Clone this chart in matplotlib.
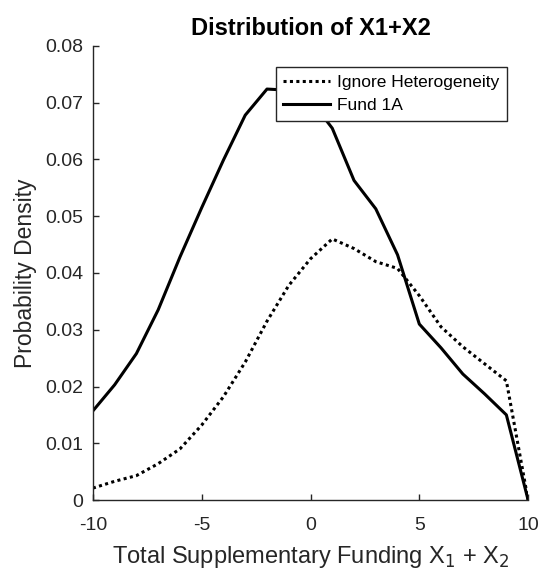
import numpy as np
import matplotlib
matplotlib.use("Agg")
import matplotlib.pyplot as plt

plt.rcParams['font.family'] = ['Liberation Sans', 'DejaVu Sans']
plt.rcParams['axes.unicode_minus'] = False

# ---- data ----
x_grid = [-10, -9, -8, -7, -6, -5, -4, -3, -2, -1, 0,
          1, 2, 3, 4, 5, 6, 7, 8, 9, 10]

ignore_het = [0.0021, 0.0033, 0.0043, 0.0064, 0.0090, 0.0132, 0.0182,
              0.0243, 0.0315, 0.0378, 0.0425, 0.0460, 0.0443, 0.0420,
              0.0408, 0.0360, 0.0305, 0.0270, 0.0240, 0.0210, 0.0]

fund_1a = [0.0157, 0.0203, 0.0258, 0.0335, 0.0428, 0.0515, 0.0599,
           0.0678, 0.0724, 0.0722, 0.0705, 0.0655, 0.0563, 0.0513,
           0.0432, 0.0310, 0.0268, 0.0222, 0.0187, 0.0150, 0.0]

x_ticks = [-10, -5, 0, 5, 10]
y_ticks = [0, 0.01, 0.02, 0.03, 0.04, 0.05, 0.06, 0.07, 0.08]
y_tick_labels = ['0', '0.01', '0.02', '0.03', '0.04',
                 '0.05', '0.06', '0.07', '0.08']

text_col = '#262626'

fig = plt.figure(figsize=(5.40, 5.77), dpi=100)
ax = fig.add_axes([0.172, 0.1334, 0.806, 0.787])

ax.plot(x_grid, ignore_het, color='black', linestyle=(0, (1, 1.1)),
        linewidth=2.2, label='Ignore Heterogeneity')
ax.plot(x_grid, fund_1a, color='black', linestyle='-',
        linewidth=2.2, label='Fund 1A')

ax.set_xlim(-10, 10)
ax.set_ylim(0, 0.08)
ax.set_xticks(x_ticks)
ax.set_yticks(y_ticks)
ax.set_yticklabels(y_tick_labels)

for side in ['top', 'right']:
    ax.spines[side].set_visible(False)
for side in ['left', 'bottom']:
    ax.spines[side].set_color(text_col)
    ax.spines[side].set_linewidth(1.0)

ax.tick_params(direction='in', length=4, width=1.0, colors=text_col,
               labelsize=14)
ax.tick_params(axis='x', pad=12)
ax.tick_params(axis='y', pad=7)

ax.set_title('Distribution of X1+X2', fontsize=17, fontweight='bold',
             color='black', pad=8)
ax.set_xlabel('Total Supplementary Funding X$_1$ + X$_2$', fontsize=17,
              color=text_col, labelpad=7.5)
ax.set_ylabel('Probability Density', fontsize=16.5, color=text_col,
              labelpad=6)

leg = ax.legend(loc='upper right', bbox_to_anchor=(0.952, 0.954),
                fontsize=12.5, frameon=True, fancybox=False,
                handlelength=2.7, handletextpad=0.4, borderpad=0.45,
                labelspacing=0.45, borderaxespad=0)
leg.get_frame().set_edgecolor(text_col)
leg.get_frame().set_linewidth(1.0)
leg.get_frame().set_alpha(1)

fig.savefig('out.png', dpi=100)
